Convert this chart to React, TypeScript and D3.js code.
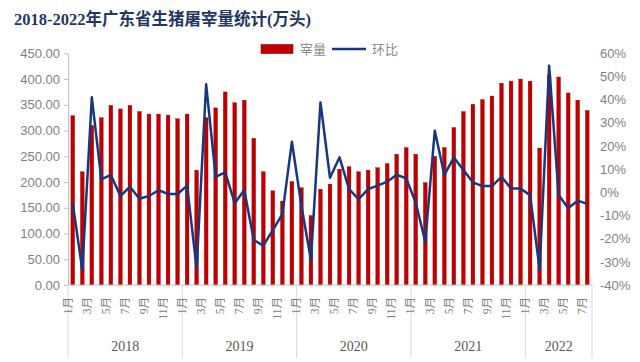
import * as d3 from "d3";
import React, { useEffect, useRef } from "react";

const years = ["2018", "2019", "2020", "2021", "2022"];
const monthsPerYear = [12, 12, 12, 12, 7];

// 屠宰量 (万头)
const volume2018 = [329, 220, 310, 325, 349, 342, 349, 337, 332, 332, 330, 323];
const volume2019 = [332, 223, 325, 344, 375, 354, 359, 285, 220, 183, 163, 201];
const volume2020 = [189, 135, 186, 196, 225, 230, 220, 223, 228, 236, 254, 267];
const volume2021 = [254, 199, 250, 267, 306, 337, 351, 360, 367, 392, 396, 400];
const volume2022 = [396, 266, 408, 404, 373, 359, 339];

// 环比 (%)
const mom2018 = [-4.8, -33.5, 41, 5.6, 7.5, -1.6, 2.4, -2.8, -1.6, 0.9, -0.7, -0.7];
const mom2019 = [2.9, -32.8, 46.6, 6.7, 8.6, -4.7, 1.0, -20.6, -23.0, -16.3, -9.4, 21.8];
const mom2020 = [-5.8, -29.2, 38.8, 6.3, 15.1, 1.4, -3.0, 1.4, 2.9, 4.6, 7.6, 6.0];
const mom2021 = [-4.5, -21.3, 26.6, 7.5, 15.0, 9.6, 4.3, 2.7, 2.7, 6.7, 1.6, 1.6];
const mom2022 = [-1.2, -33.2, 54.6, -1.2, -6.9, -3.6, -5.0];

const leftTicks = [0, 50, 100, 150, 200, 250, 300, 350, 400, 450];
const rightTicks = [-40, -30, -20, -10, 0, 10, 20, 30, 40, 50, 60];

const title = "2018-2022年广东省生猪屠宰量统计(万头)";
const barName = "宰量";
const lineName = "环比";

interface Point {
    id: number;
    year: string;
    month: number;
    volume: number;
    mom: number;
}

const volumes = [volume2018, volume2019, volume2020, volume2021, volume2022];
const moms = [mom2018, mom2019, mom2020, mom2021, mom2022];

const points: Point[] = [];
years.forEach((year, yi) => {
    for (let m = 0; m < monthsPerYear[yi]; m++) {
        points.push({
            id: points.length,
            year,
            month: m + 1,
            volume: volumes[yi][m],
            mom: moms[yi][m],
        });
    }
});

const WIDTH = 640;
const HEIGHT = 362;
const LEFT = 68;
const RIGHT = 592;
const TOP = 53.3;
const BOTTOM = 285;

const GRAY = "#bfbfbf";
const TEXT = "#7f7f7f";
const RED = "#c00000";
const BLUE = "#17387e";
const SANS = "'Liberation Sans', Arial, sans-serif";
const SERIF = "'Liberation Serif', 'Noto Sans CJK SC', serif";

const App: React.FC = () => {
    const svgRef = useRef<SVGSVGElement>(null);

    useEffect(() => {
        if (!svgRef.current) return;
        const svg = d3.select(svgRef.current);
        svg.selectAll("*").remove();

        const slot = d3
            .scaleBand<number>()
            .domain(points.map((d) => d.id))
            .range([LEFT, RIGHT]);
        const bw = slot.bandwidth();

        const yLeft = d3.scaleLinear().domain([0, 450]).range([BOTTOM, TOP]);
        const yRight = d3.scaleLinear().domain([-40, 60]).range([BOTTOM, TOP]);

        // title
        svg.append("text")
            .attr("x", 14)
            .attr("y", 25)
            .attr("font-family", SERIF)
            .attr("font-size", 16.5)
            .attr("font-weight", "bold")
            .attr("fill", "#1f3864")
            .text(title);

        // legend
        const legend = svg.append("g").attr("font-family", "'Noto Sans CJK SC', sans-serif").attr("font-size", 13).attr("fill", "#8c8c8c");
        legend.append("rect").attr("x", 261).attr("y", 44.5).attr("width", 32).attr("height", 9)
            .attr("fill", RED).attr("stroke", "#8b0000").attr("stroke-width", 0.6);
        legend.append("text").attr("x", 300).attr("y", 53.5).text(barName);
        legend.append("line").attr("x1", 332).attr("x2", 366).attr("y1", 49).attr("y2", 49)
            .attr("stroke", BLUE).attr("stroke-width", 2.5);
        legend.append("text").attr("x", 372).attr("y", 53.5).text(lineName);

        // left axis
        const leftAxis = d3.axisLeft(yLeft).tickValues(leftTicks).tickSize(4).tickSizeOuter(0)
            .tickFormat((d) => d3.format(".2f")(d as number));
        const gl = svg.append("g").attr("transform", `translate(${LEFT},0)`).call(leftAxis);
        gl.select(".domain").attr("stroke", GRAY);
        gl.selectAll(".tick line").attr("stroke", GRAY);
        gl.selectAll(".tick text").attr("fill", TEXT).attr("font-size", 13).attr("font-family", SANS).attr("x", -8);

        // right axis (labels only)
        const rightAxis = d3.axisRight(yRight).tickValues(rightTicks).tickSize(0)
            .tickFormat((d) => `${d}%`);
        const gr = svg.append("g").attr("transform", `translate(${RIGHT},0)`).call(rightAxis);
        gr.select(".domain").remove();
        gr.selectAll(".tick text").attr("fill", TEXT).attr("font-size", 13).attr("font-family", SANS).attr("x", 8);

        // bars
        svg.append("g")
            .selectAll("rect")
            .data(points)
            .join("rect")
            .attr("x", (d) => (slot(d.id) as number) + bw * 0.3)
            .attr("width", bw * 0.4)
            .attr("y", (d) => yLeft(d.volume))
            .attr("height", (d) => yLeft(0) - yLeft(d.volume))
            .attr("fill", RED)
            .attr("stroke", "#9a0000")
            .attr("stroke-width", 0.3);

        // x axis line
        svg.append("line").attr("x1", LEFT).attr("x2", RIGHT).attr("y1", BOTTOM).attr("y2", BOTTOM)
            .attr("stroke", GRAY);

        // year group separators
        const bounds: number[] = [LEFT];
        years.forEach((year) => {
            const ps = points.filter((p) => p.year === year);
            bounds.push((slot(ps[ps.length - 1].id) as number) + bw);
        });
        svg.append("g")
            .selectAll("line")
            .data(bounds)
            .join("line")
            .attr("x1", (d) => d)
            .attr("x2", (d) => d)
            .attr("y1", BOTTOM)
            .attr("y2", 358)
            .attr("stroke", "#d9d9d9");

        // month labels (odd months)
        svg.append("g")
            .selectAll("text")
            .data(points.filter((p) => p.month % 2 === 1))
            .join("text")
            .attr("transform", (d) => `translate(${(slot(d.id) as number) - 0.5},297) rotate(-90)`)
            .attr("text-anchor", "end")
            .attr("dominant-baseline", "central")
            .attr("font-family", SERIF)
            .attr("font-size", 11.5)
            .attr("fill", TEXT)
            .text((d) => `${d.month}月`);

        // year labels
        svg.append("g")
            .selectAll("text")
            .data(years)
            .join("text")
            .attr("x", (_, i) => (bounds[i] + bounds[i + 1]) / 2)
            .attr("y", 351)
            .attr("text-anchor", "middle")
            .attr("font-family", SERIF)
            .attr("font-size", 14)
            .attr("fill", "#595959")
            .text((d) => d);

        // line
        const lineGenerator = d3
            .line<Point>()
            .x((d) => (slot(d.id) as number) + bw / 2)
            .y((d) => yRight(d.mom));

        svg.append("path")
            .datum(points)
            .attr("fill", "none")
            .attr("stroke", BLUE)
            .attr("stroke-width", 2.5)
            .attr("stroke-linejoin", "round")
            .attr("d", lineGenerator);
    }, []);

    return (
        <svg
            ref={svgRef}
            width={WIDTH}
            height={HEIGHT}
            style={{ position: "absolute", left: 0, top: 0, background: "#fff" }}
        />
    );
};

export default App;
